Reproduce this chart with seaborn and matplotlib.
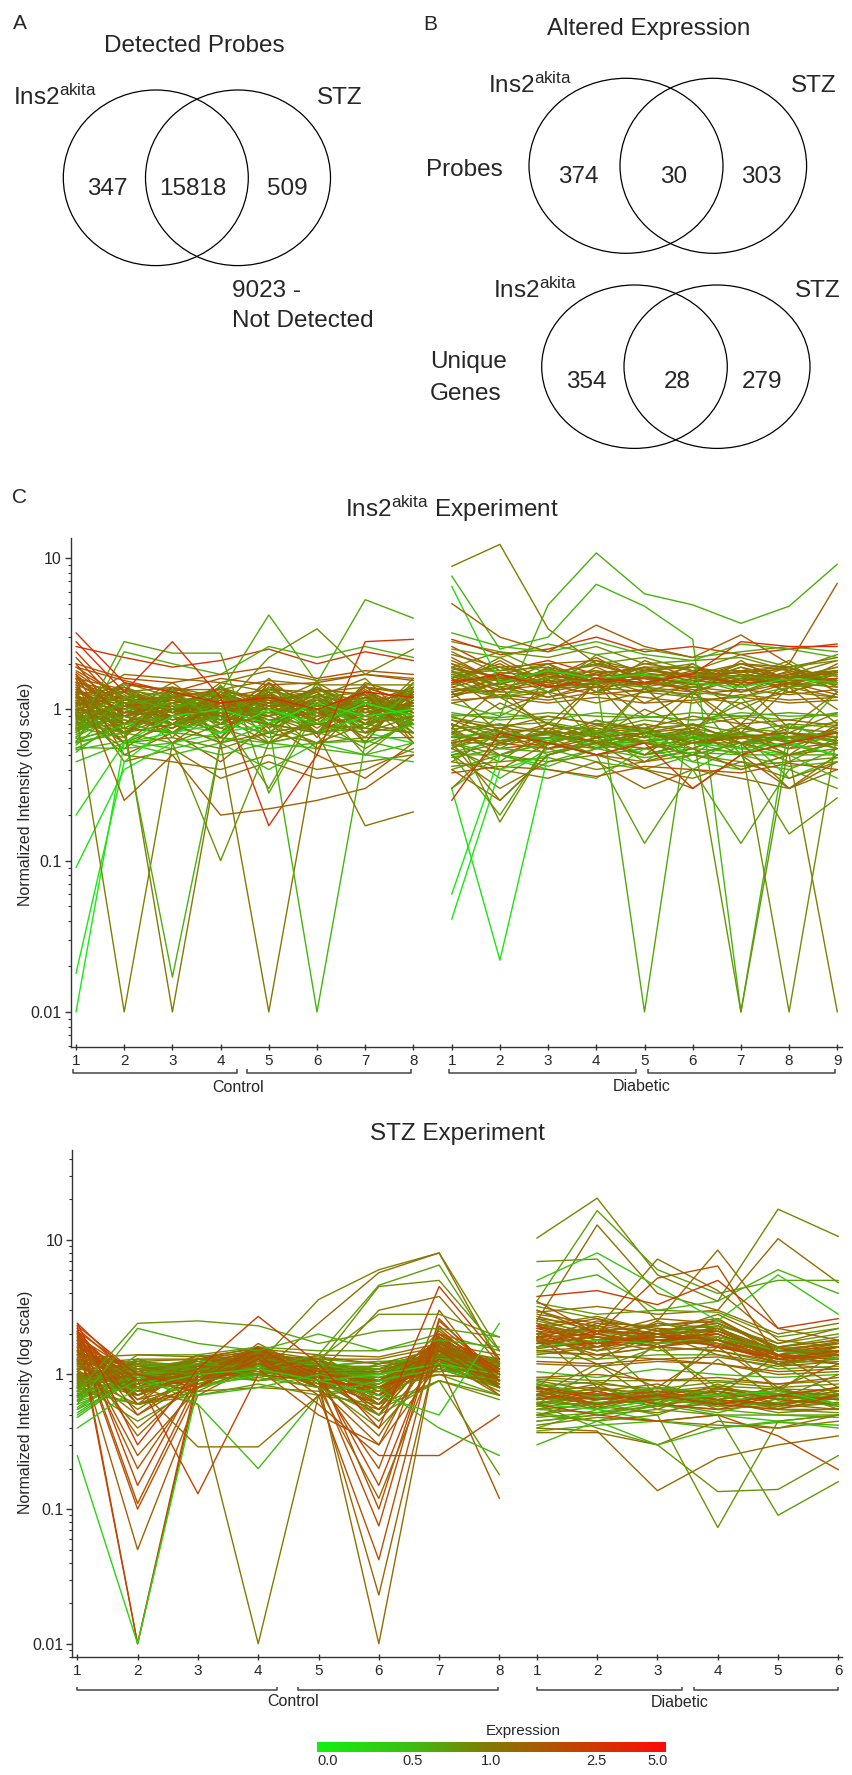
import numpy as np
import pandas as pd
import matplotlib
matplotlib.use("Agg")
import matplotlib.pyplot as plt
import seaborn as sns
from matplotlib.colors import LinearSegmentedColormap
from matplotlib.patches import Ellipse

# ---------------- data ----------------
venn_detected = [347, 15818, 509]
not_detected = 9023
venn_probes = [374, 30, 303]
venn_genes = [354, 28, 279]

ins_ctrl_labels = ["1", "2", "3", "4", "5", "6", "7", "8"]
ins_diab_labels = ["1", "2", "3", "4", "5", "6", "7", "8", "9"]
stz_ctrl_labels = ["1", "2", "3", "4", "5", "6", "7", "8"]
stz_diab_labels = ["1", "2", "3", "4", "5", "6"]

cbar_values = [0.0, 0.5, 1.0, 2.5, 5.0]
cbar_labels = ["0.0", "0.5", "1.0", "2.5", "5.0"]

ins_ctrl = [
    [2.4, 1.1, 0.9, 1.2, 0.8, 1.0, 1.3, 0.9], [2.0, 0.8, 1.1, 0.9, 1.3, 0.7, 1.0, 1.2],
    [1.8, 1.2, 0.7, 1.1, 0.9, 1.2, 0.8, 1.0], [1.6, 0.9, 1.3, 0.8, 1.1, 0.9, 1.2, 0.7],
    [1.5, 1.3, 1.0, 1.4, 0.7, 1.1, 0.9, 1.3], [1.4, 0.7, 1.2, 0.9, 1.5, 0.8, 1.4, 1.1],
    [1.3, 1.0, 0.8, 1.3, 1.0, 1.3, 0.7, 0.9], [1.25, 1.4, 1.1, 0.7, 1.2, 1.0, 1.1, 1.4],
    [1.2, 0.8, 1.4, 1.0, 0.8, 1.4, 1.0, 0.8], [1.15, 1.1, 0.9, 1.5, 1.3, 0.7, 1.5, 1.2],
    [1.1, 0.6, 1.0, 1.1, 0.9, 1.1, 0.8, 1.5], [1.05, 1.2, 1.3, 0.8, 1.6, 0.9, 1.2, 0.9],
    [1.0, 0.9, 0.7, 1.2, 1.1, 1.5, 1.0, 1.1], [0.98, 1.5, 1.2, 1.0, 0.7, 1.2, 1.6, 0.8],
    [0.95, 1.0, 1.5, 0.9, 1.2, 0.8, 0.9, 1.3], [0.9, 0.7, 1.1, 1.3, 1.0, 1.0, 1.3, 1.0],
    [0.88, 1.3, 0.8, 0.6, 1.4, 1.2, 0.8, 1.6], [0.85, 0.9, 1.2, 1.1, 0.8, 0.6, 1.1, 0.7],
    [0.8, 1.1, 1.0, 1.4, 1.1, 1.3, 0.7, 1.2], [0.75, 0.8, 0.9, 1.0, 1.3, 0.9, 1.2, 1.0],
    [2.2, 1.0, 1.2, 0.8, 1.1, 0.9, 1.4, 1.1], [1.9, 1.2, 0.9, 1.1, 0.8, 1.2, 0.9, 0.8],
    [1.7, 0.9, 1.1, 1.3, 1.2, 0.8, 1.1, 1.3], [1.45, 1.1, 0.8, 1.0, 0.9, 1.4, 0.8, 1.0],
    [1.35, 0.8, 1.3, 0.9, 1.4, 1.0, 1.3, 0.9], [1.28, 1.3, 1.0, 1.2, 0.8, 1.1, 1.0, 1.2],
    [1.2, 0.7, 0.9, 0.7, 1.0, 0.7, 1.2, 0.8], [1.12, 1.0, 1.4, 1.1, 1.2, 1.2, 0.9, 1.1],
    [1.08, 1.2, 0.8, 0.9, 0.6, 0.9, 1.4, 1.3], [1.02, 0.9, 1.1, 1.3, 1.0, 1.3, 0.8, 0.9],
    [0.97, 1.4, 1.0, 0.8, 1.3, 0.8, 1.1, 1.0], [0.92, 0.8, 1.3, 1.2, 0.9, 1.1, 1.0, 1.4],
    [0.87, 1.1, 0.7, 1.0, 1.1, 1.0, 1.3, 0.8], [0.82, 0.7, 1.0, 1.4, 0.8, 1.2, 0.7, 1.1],
    [0.78, 1.2, 1.2, 0.9, 1.2, 0.8, 1.2, 0.9], [0.72, 0.9, 0.8, 1.1, 1.0, 1.4, 0.9, 1.2],
    [0.68, 1.0, 1.1, 0.7, 1.4, 0.9, 1.1, 1.0], [0.62, 0.8, 0.9, 1.2, 0.9, 1.1, 1.0, 1.3],
    [0.58, 1.1, 1.2, 1.0, 1.1, 0.7, 1.2, 0.8], [0.52, 0.9, 1.0, 0.9, 0.8, 1.0, 0.8, 1.1],
    [1.0, 0.5, 0.45, 0.4, 0.5, 0.4, 0.45, 0.5], [1.3, 0.45, 0.55, 0.35, 0.45, 0.35, 0.4, 0.55],
    [2.6, 2.2, 1.9, 2.1, 2.5, 2.0, 2.4, 2.1], [0.6, 2.4, 2.0, 1.7, 2.6, 2.2, 2.6, 2.2],
    [1.7, 0.5, 0.7, 0.45, 0.8, 0.5, 0.35, 0.6], [0.45, 0.6, 0.5, 0.6, 0.4, 0.6, 0.5, 0.45],
    [1.15, 0.75, 1.05, 0.85, 1.25, 0.95, 0.75, 1.15], [0.92, 1.25, 0.85, 1.15, 0.95, 1.25, 1.05, 0.85],
    [1.22, 0.95, 1.25, 0.75, 1.05, 0.85, 1.35, 0.95], [0.86, 1.05, 0.95, 1.25, 0.75, 1.15, 0.95, 1.25],
    [1.4, 0.85, 0.75, 1.05, 1.15, 0.75, 1.15, 1.05], [0.7, 1.15, 1.15, 0.95, 1.35, 1.05, 0.85, 0.95],
    [1.6, 1.35, 0.95, 1.15, 0.85, 0.95, 1.05, 1.35], [0.76, 0.65, 1.25, 0.85, 1.05, 1.35, 1.25, 0.75],
    [1.05, 1.45, 1.35, 1.35, 1.55, 1.45, 1.45, 1.45], [0.94, 0.6, 0.65, 0.55, 0.7, 0.6, 0.65, 0.65],
    [1.32, 1.1, 0.85, 0.95, 0.95, 1.15, 0.8, 1.15], [0.66, 0.95, 1.05, 1.05, 0.85, 0.8, 1.1, 0.9],
    [1.75, 1.05, 1.15, 0.9, 1.2, 1.05, 1.2, 0.95], [0.81, 0.85, 0.75, 1.2, 1.1, 0.9, 0.95, 1.05],
    [1.18, 1.2, 1.0, 1.05, 0.9, 1.25, 1.0, 1.25], [0.96, 0.9, 1.2, 0.8, 1.25, 0.95, 1.25, 0.85],
    [1.5, 0.95, 0.9, 1.25, 1.05, 1.1, 0.85, 1.1], [0.74, 1.1, 1.1, 0.95, 0.95, 0.85, 1.15, 1.0],
    [1.26, 0.8, 1.3, 1.1, 1.15, 1.0, 0.9, 1.3], [0.89, 1.3, 0.95, 0.85, 1.3, 1.2, 1.3, 0.9],
    [2.0, 1.6, 1.5, 1.7, 1.9, 1.6, 1.8, 1.7], [0.56, 0.55, 0.6, 0.5, 0.6, 0.55, 0.5, 0.6],
    [1.1, 1.7, 1.6, 1.5, 1.8, 1.55, 1.7, 1.6], [0.64, 0.75, 0.7, 0.65, 0.6, 0.7, 0.75, 0.7],
    [1.45, 0.65, 1.4, 0.6, 1.5, 0.65, 1.45, 0.6], [0.73, 1.5, 0.65, 1.45, 0.6, 1.5, 0.6, 1.5],
    [1.9, 1.55, 1.3, 1.6, 1.45, 1.5, 1.7, 1.55], [0.54, 0.62, 0.55, 0.65, 0.55, 0.6, 0.62, 0.52],
    [1.02, 0.75, 0.7, 0.95, 0.65, 0.8, 0.75, 0.7], [1.14, 1.3, 1.4, 1.2, 1.35, 1.3, 1.4, 1.25],
    [0.83, 0.95, 1.3, 0.65, 1.2, 0.7, 1.3, 0.7], [1.24, 0.6, 0.8, 1.3, 0.75, 1.2, 0.6, 1.4],
    [0.99, 1.2, 0.6, 1.0, 1.0, 0.55, 1.1, 0.6], [1.36, 0.95, 1.05, 0.65, 1.5, 1.0, 0.65, 1.3],
    [0.77, 1.35, 1.2, 1.3, 0.9, 1.35, 1.1, 0.9], [1.65, 0.9, 0.75, 1.1, 1.25, 0.85, 1.3, 1.2],
    [0.61, 0.7, 1.35, 0.8, 0.7, 1.2, 0.75, 1.35], [1.52, 1.15, 1.2, 1.35, 1.1, 1.35, 1.25, 0.65],
    [0.91, 0.55, 0.9, 0.75, 0.6, 0.85, 0.55, 0.85], [1.07, 1.4, 0.95, 1.4, 1.0, 1.4, 0.95, 1.05],
    # outlier probes
    [0.01, 0.6, 0.9, 1.0, 0.8, 1.1, 0.9, 1.0], [0.018, 0.45, 0.8, 0.7, 1.0, 0.8, 1.1, 0.9],
    [0.09, 0.4, 0.6, 0.7, 0.8, 0.7, 0.9, 0.8], [0.2, 0.6, 0.7, 0.8, 0.7, 0.8, 0.7, 0.6],
    [0.7, 2.8, 2.35, 2.35, 0.28, 1.0, 0.9, 0.8], [0.95, 0.01, 0.6, 0.8, 0.9, 0.7, 0.8, 0.9],
    [1.0, 0.8, 0.01, 0.6, 0.7, 0.8, 0.7, 0.8], [0.6, 0.7, 0.017, 0.6, 0.8, 0.7, 0.6, 0.8],
    [1.05, 0.7, 0.8, 0.6, 0.01, 0.6, 0.8, 0.7], [0.55, 0.8, 0.7, 0.9, 0.8, 0.01, 0.6, 0.8],
    [0.8, 0.7, 0.6, 0.1, 0.6, 0.7, 0.8, 0.7], [0.65, 1.2, 1.0, 1.3, 4.2, 1.5, 5.3, 4.0],
    [0.85, 1.1, 1.2, 1.0, 2.2, 3.4, 1.7, 2.5], [3.2, 1.5, 1.3, 1.1, 1.2, 1.0, 1.3, 1.2],
    [2.8, 1.3, 2.8, 1.2, 0.17, 0.5, 2.8, 2.9], [1.1, 0.9, 1.0, 0.9, 0.8, 0.7, 0.17, 0.21],
    [0.75, 0.9, 0.8, 0.9, 0.3, 1.1, 0.5, 0.9], [1.6, 0.25, 0.5, 0.2, 0.22, 0.25, 0.3, 0.5],
]
ins_diab = [
    [2.6, 1.8, 2.1, 1.7, 1.9, 1.5, 2.0, 1.6, 1.8], [1.9, 1.4, 1.6, 2.2, 1.5, 1.8, 1.4, 1.7, 1.5],
    [1.6, 2.0, 1.4, 1.5, 1.7, 1.3, 1.6, 1.4, 2.0], [2.2, 1.5, 1.8, 1.3, 2.1, 1.6, 1.8, 1.9, 1.4],
    [1.4, 1.7, 1.3, 1.9, 1.4, 2.0, 1.3, 1.5, 1.7], [1.8, 1.3, 1.9, 1.6, 1.3, 1.4, 1.7, 1.3, 1.6],
    [1.5, 2.2, 1.5, 1.4, 1.8, 1.7, 1.5, 2.0, 1.3], [1.3, 1.6, 1.7, 2.0, 1.6, 1.5, 1.9, 1.6, 1.9],
    [2.0, 1.4, 1.2, 1.5, 1.9, 1.9, 1.4, 1.8, 1.5], [1.7, 1.9, 1.6, 1.8, 1.4, 1.3, 2.1, 1.4, 1.7],
    [1.2, 1.5, 2.0, 1.3, 1.7, 1.7, 1.6, 1.5, 1.4], [2.4, 1.7, 1.5, 2.1, 1.5, 1.4, 1.3, 1.7, 2.1],
    [1.6, 1.2, 1.8, 1.6, 2.0, 1.8, 1.8, 1.3, 1.6], [1.45, 2.1, 1.4, 1.4, 1.3, 1.6, 1.5, 1.9, 1.3],
    [1.9, 1.6, 1.7, 1.8, 1.6, 1.3, 1.7, 1.5, 1.8], [1.35, 1.3, 1.3, 1.5, 1.8, 2.0, 1.4, 1.7, 1.5],
    [1.75, 1.8, 1.9, 1.3, 1.5, 1.5, 1.9, 1.4, 1.6], [2.8, 2.4, 2.2, 2.6, 2.0, 2.1, 2.2, 1.8, 2.3],
    [1.25, 1.5, 1.6, 1.7, 1.4, 1.6, 1.3, 1.6, 1.9], [1.55, 1.9, 1.3, 2.3, 1.7, 1.4, 1.6, 2.1, 1.4],
    [0.7, 0.55, 0.6, 0.75, 0.65, 0.7, 0.6, 0.65, 0.7], [0.6, 0.7, 0.75, 0.6, 0.55, 0.65, 0.7, 0.55, 0.6],
    [0.8, 0.6, 0.55, 0.7, 0.75, 0.6, 0.65, 0.7, 0.65], [0.55, 0.75, 0.7, 0.55, 0.7, 0.75, 0.55, 0.6, 0.75],
    [0.75, 0.5, 0.65, 0.8, 0.6, 0.55, 0.75, 0.65, 0.55], [0.65, 0.65, 0.8, 0.65, 0.5, 0.8, 0.6, 0.75, 0.7],
    [0.9, 0.7, 0.6, 0.55, 0.7, 0.6, 0.7, 0.5, 0.8], [0.5, 0.6, 0.7, 0.7, 0.8, 0.7, 0.5, 0.7, 0.6],
    [0.7, 0.8, 0.55, 0.6, 0.6, 0.5, 0.8, 0.6, 0.5], [0.6, 0.45, 0.75, 0.75, 0.65, 0.75, 0.65, 0.55, 0.75],
    [0.85, 0.65, 0.65, 0.5, 0.55, 0.65, 0.55, 0.8, 0.6], [0.45, 0.7, 0.5, 0.65, 0.75, 0.55, 0.7, 0.6, 0.85],
    [0.72, 0.55, 0.8, 0.7, 0.45, 0.7, 0.6, 0.45, 0.65], [0.62, 0.75, 0.6, 0.85, 0.7, 0.6, 0.75, 0.7, 0.55],
    [0.8, 0.6, 0.7, 0.6, 0.8, 0.45, 0.65, 0.65, 0.7], [0.4, 0.5, 0.45, 0.55, 0.6, 0.6, 0.5, 0.5, 0.5],
    [0.95, 0.85, 0.9, 0.8, 0.9, 0.85, 0.9, 0.85, 0.95], [0.58, 0.35, 0.55, 0.45, 0.4, 0.5, 0.45, 0.4, 0.55],
    [0.66, 0.7, 0.62, 0.72, 0.68, 0.4, 0.58, 0.66, 0.62], [0.52, 0.62, 0.68, 0.58, 0.62, 0.66, 0.7, 0.35, 0.48],
    [0.5, 0.3, 0.45, 0.5, 0.4, 0.35, 0.45, 0.35, 0.45], [0.45, 0.4, 0.35, 0.45, 0.3, 0.4, 0.35, 0.3, 0.4],
    [2.9, 2.3, 2.5, 3.0, 2.4, 2.6, 2.3, 2.5, 2.7], [3.2, 2.6, 2.4, 2.8, 2.3, 2.1, 2.7, 2.5, 2.2],
    [0.4, 0.25, 0.5, 0.6, 0.4, 0.3, 0.5, 0.3, 0.45], [0.3, 0.5, 0.4, 0.35, 0.55, 0.45, 0.4, 0.5, 0.35],
    [1.65, 1.35, 1.55, 1.45, 1.75, 1.55, 1.45, 1.65, 1.55], [0.68, 0.62, 0.72, 0.66, 0.6, 0.68, 0.64, 0.7, 0.66],
    [1.45, 1.75, 1.65, 1.55, 1.45, 1.75, 1.65, 1.45, 1.75], [0.78, 0.72, 0.58, 0.78, 0.72, 0.62, 0.78, 0.62, 0.72],
    [2.1, 1.55, 1.75, 1.95, 1.65, 1.45, 1.55, 1.75, 1.45], [0.56, 0.66, 0.68, 0.56, 0.66, 0.72, 0.6, 0.58, 0.66],
    [1.25, 1.35, 1.45, 1.25, 1.35, 1.25, 1.35, 1.25, 1.35], [0.88, 0.78, 0.82, 0.72, 0.85, 0.78, 0.88, 0.75, 0.82],
    [1.6, 1.0, 1.3, 1.7, 1.1, 1.5, 1.0, 1.4, 1.2], [0.7, 1.1, 0.8, 0.65, 1.0, 0.75, 1.1, 0.7, 0.95],
    [1.85, 1.65, 1.45, 1.75, 1.85, 1.65, 1.75, 1.85, 1.65], [0.48, 0.55, 0.52, 0.6, 0.5, 0.55, 0.52, 0.58, 0.5],
    [1.3, 1.5, 1.2, 1.4, 1.5, 1.35, 1.2, 1.5, 1.25], [0.74, 0.8, 0.7, 0.84, 0.74, 0.8, 0.7, 0.8, 0.76],
    [1.7, 1.45, 1.85, 1.5, 1.6, 1.9, 1.55, 1.7, 1.8], [0.62, 0.58, 0.65, 0.62, 0.55, 0.6, 0.68, 0.62, 0.58],
    [1.15, 1.2, 1.1, 1.2, 1.1, 1.15, 1.2, 1.1, 1.15], [0.92, 0.88, 0.95, 0.9, 0.88, 0.95, 0.9, 0.95, 0.9],
    [2.3, 1.9, 2.0, 2.1, 1.8, 1.7, 2.0, 1.9, 2.2], [0.42, 0.45, 0.48, 0.4, 0.45, 0.5, 0.42, 0.45, 0.48],
    [1.55, 1.6, 1.7, 1.5, 1.6, 1.65, 1.5, 1.55, 1.6], [0.66, 0.7, 0.64, 0.68, 0.72, 0.64, 0.68, 0.66, 0.7],
    [1.8, 1.2, 0.8, 1.5, 0.9, 1.3, 0.8, 1.6, 1.0], [0.55, 0.9, 1.3, 0.6, 1.4, 0.7, 1.2, 0.6, 1.3],
    [1.1, 1.25, 1.15, 1.3, 1.2, 1.1, 1.25, 1.15, 1.2], [2.5, 2.2, 2.7, 2.3, 2.5, 2.2, 2.4, 2.6, 2.4],
    [0.38, 0.42, 0.4, 0.36, 0.42, 0.4, 0.38, 0.44, 0.4], [0.9, 0.95, 0.85, 0.95, 0.9, 0.85, 0.95, 0.9, 0.92],
    [1.3, 0.7, 1.6, 0.65, 1.4, 0.7, 1.5, 0.75, 1.3], [0.75, 1.4, 0.7, 1.5, 0.65, 1.3, 0.7, 1.4, 0.8],
    [1.9, 2.4, 1.7, 2.0, 2.2, 1.8, 2.3, 1.9, 2.1], [0.55, 0.4, 0.6, 0.5, 0.45, 0.55, 0.4, 0.5, 0.55],
    [1.4, 1.2, 1.3, 1.1, 1.3, 1.2, 1.1, 1.3, 1.2], [0.85, 0.75, 0.9, 0.8, 0.75, 0.9, 0.8, 0.85, 0.78],
    [1.65, 1.55, 1.8, 1.6, 1.5, 1.7, 1.65, 1.55, 1.7], [0.6, 0.68, 0.55, 0.65, 0.7, 0.6, 0.66, 0.7, 0.62],
    [0.5, 0.5, 0.42, 0.55, 0.48, 0.52, 0.5, 0.42, 0.45], [2.0, 1.6, 1.5, 1.7, 1.6, 1.5, 1.8, 1.6, 1.75],
    [0.8, 0.62, 0.7, 0.68, 0.62, 0.72, 0.6, 0.66, 0.7], [1.2, 1.7, 2.0, 1.5, 1.9, 1.6, 2.0, 1.8, 1.5],
    # outlier probes
    [0.06, 0.5, 0.6, 0.7, 0.5, 0.6, 0.55, 0.6, 0.5], [0.041, 0.4, 0.5, 0.6, 0.7, 0.5, 0.6, 0.5, 0.6],
    [0.3, 0.022, 0.5, 0.6, 0.5, 0.6, 0.55, 0.5, 0.6], [6.5, 1.5, 1.8, 1.6, 1.7, 1.5, 1.4, 1.6, 1.5],
    [0.5, 0.2, 0.6, 0.5, 0.13, 0.4, 0.13, 0.4, 0.3], [0.8, 0.6, 0.7, 0.6, 0.7, 0.6, 0.7, 0.5, 0.01],
    [8.8, 12.3, 3.4, 2.0, 1.8, 1.9, 1.7, 1.6, 1.8], [1.1, 0.9, 4.9, 10.8, 5.8, 4.9, 3.7, 4.8, 9.1],
    [0.6, 0.25, 0.5, 0.6, 0.7, 0.8, 0.6, 0.3, 0.5], [7.6, 2.5, 3.0, 6.7, 4.8, 2.9, 0.01, 0.8, 0.6],
    [0.6, 0.5, 0.6, 0.5, 0.6, 0.7, 0.01, 0.6, 0.7], [1.5, 1.2, 1.4, 1.6, 0.01, 1.3, 1.2, 1.4, 1.5],
    [0.8, 0.18, 0.6, 0.7, 0.6, 0.5, 0.6, 0.01, 0.7], [1.5, 1.7, 1.4, 1.6, 1.5, 1.7, 2.8, 2.6, 2.6],
    [0.25, 0.7, 0.6, 0.5, 0.6, 0.3, 0.5, 0.6, 0.7], [0.3, 0.6, 0.7, 0.6, 0.5, 0.6, 0.6, 0.5, 0.6],
    [1.8, 1.4, 1.6, 1.5, 1.4, 1.2, 0.5, 0.15, 0.26], [5.0, 3.0, 2.4, 3.6, 2.6, 2.2, 3.1, 2.0, 6.8],
]

stz_ctrl = [
    [2.4, 0.9, 1.1, 1.5, 1.0, 0.7, 1.6, 0.9], [2.1, 0.7, 1.2, 1.3, 1.1, 0.6, 1.8, 1.0],
    [1.9, 1.0, 0.9, 1.6, 0.9, 0.8, 1.4, 0.8], [1.7, 0.6, 1.3, 1.2, 1.2, 0.5, 2.0, 1.1],
    [1.6, 1.1, 1.0, 1.4, 0.8, 0.9, 1.3, 0.7], [1.5, 0.8, 1.4, 1.1, 1.3, 0.7, 1.7, 1.2],
    [1.4, 1.2, 0.8, 1.7, 1.0, 1.0, 1.2, 0.9], [1.3, 0.9, 1.2, 1.0, 1.4, 0.8, 1.5, 1.0],
    [1.25, 0.7, 1.1, 1.3, 0.9, 0.6, 1.9, 0.8], [1.2, 1.3, 1.3, 1.5, 1.1, 1.1, 1.3, 1.3],
    [1.1, 1.0, 0.9, 1.2, 1.2, 0.9, 1.6, 1.0], [1.05, 0.8, 1.2, 0.9, 1.0, 0.7, 1.1, 0.9],
    [1.0, 1.1, 1.0, 1.4, 0.8, 1.2, 1.4, 1.2], [0.95, 0.9, 1.4, 1.1, 1.3, 0.8, 1.2, 0.8],
    [0.9, 1.2, 1.1, 1.3, 1.1, 1.0, 1.7, 1.1], [0.85, 0.8, 0.9, 1.0, 0.9, 0.7, 1.3, 0.9],
    [0.8, 1.0, 1.3, 1.2, 1.2, 1.1, 1.5, 1.3], [0.75, 1.3, 1.0, 0.9, 1.0, 0.9, 1.1, 1.0],
    [0.7, 0.9, 1.2, 1.4, 1.3, 1.2, 1.4, 0.8], [0.65, 1.1, 1.1, 1.0, 0.9, 0.8, 1.2, 1.2],
    [2.3, 1.0, 1.0, 1.3, 1.2, 0.8, 1.5, 1.1], [2.0, 0.8, 1.3, 1.6, 0.9, 0.6, 1.7, 0.9],
    [1.8, 0.6, 0.9, 1.1, 1.1, 0.7, 1.3, 1.0], [1.65, 0.9, 1.2, 1.5, 1.0, 0.9, 1.8, 0.8],
    [1.45, 1.1, 1.0, 1.2, 1.3, 0.8, 1.2, 1.2], [1.35, 0.7, 1.3, 1.4, 0.9, 0.5, 1.6, 0.9],
    [1.28, 1.0, 0.8, 1.0, 1.2, 1.0, 1.4, 1.1], [1.15, 0.8, 1.2, 1.3, 1.0, 0.7, 1.3, 0.8],
    [1.08, 1.2, 1.1, 1.6, 1.1, 1.1, 1.6, 1.0], [1.02, 0.9, 0.9, 1.2, 0.8, 0.8, 1.2, 1.2],
    [0.97, 1.1, 1.2, 1.1, 1.2, 1.0, 1.5, 0.9], [0.92, 0.7, 1.0, 1.4, 1.0, 0.6, 1.3, 1.1],
    [0.87, 1.0, 1.3, 1.0, 1.3, 0.9, 1.1, 0.8], [0.82, 1.2, 0.9, 1.3, 0.9, 1.2, 1.4, 1.0],
    [0.78, 0.8, 1.1, 0.9, 1.1, 0.8, 1.6, 1.2], [0.72, 1.0, 1.2, 1.2, 1.0, 1.0, 1.2, 0.9],
    [0.68, 1.3, 0.9, 1.1, 1.2, 1.1, 1.3, 1.0], [0.6, 0.9, 1.1, 1.3, 0.9, 0.9, 1.1, 0.8],
    [0.55, 1.1, 1.0, 1.0, 1.1, 1.0, 1.4, 1.1], [0.48, 1.0, 1.2, 1.2, 1.0, 0.8, 1.2, 0.9],
    [1.12, 0.85, 1.05, 1.25, 1.05, 0.85, 1.35, 1.05], [0.93, 1.05, 1.15, 1.15, 0.95, 0.95, 1.25, 0.95],
    [1.55, 0.75, 0.95, 1.35, 1.15, 0.75, 1.55, 1.15], [0.79, 1.15, 1.25, 1.05, 1.25, 1.05, 1.15, 0.85],
    [1.38, 0.95, 1.05, 1.45, 0.85, 0.85, 1.45, 0.95], [0.67, 0.95, 1.15, 1.25, 1.05, 0.95, 1.05, 1.15],
    [1.85, 0.65, 0.85, 1.15, 0.95, 0.65, 1.65, 0.85], [0.83, 1.25, 0.95, 1.35, 1.15, 1.15, 1.35, 1.05],
    [1.22, 0.55, 1.05, 1.45, 1.05, 0.55, 1.85, 1.05], [0.96, 1.05, 1.25, 1.05, 0.95, 1.05, 1.15, 1.25],
    [1.6, 0.85, 1.15, 1.55, 1.15, 0.75, 1.75, 0.95], [0.74, 0.95, 0.85, 1.15, 1.05, 0.95, 1.25, 1.05],
    [1.05, 0.7, 1.2, 1.3, 1.2, 0.65, 1.5, 0.85], [0.88, 1.15, 1.05, 0.95, 1.15, 1.25, 1.05, 1.15],
    [1.42, 1.05, 0.9, 1.35, 0.9, 0.9, 1.35, 1.2], [0.63, 0.85, 1.05, 1.2, 0.95, 0.85, 1.3, 0.9],
    [1.95, 0.8, 1.1, 1.4, 1.1, 0.7, 1.9, 1.0], [0.52, 1.0, 0.95, 1.1, 1.2, 1.0, 1.2, 1.1],
    [1.18, 1.25, 1.3, 1.5, 1.3, 1.3, 1.6, 1.3], [0.98, 0.6, 0.75, 0.8, 0.75, 0.55, 0.9, 0.7],
    [1.3, 0.4, 0.9, 1.2, 1.0, 0.45, 1.4, 0.9], [0.86, 0.45, 0.8, 1.1, 0.85, 0.4, 1.2, 0.8],
    [1.5, 0.35, 0.95, 1.3, 0.9, 0.35, 1.7, 1.0], [0.7, 1.4, 1.4, 1.6, 1.5, 1.5, 2.0, 1.5],
    [1.33, 1.4, 1.35, 1.55, 1.4, 1.35, 1.7, 1.4], [0.76, 0.6, 0.7, 0.85, 0.7, 0.6, 0.9, 0.65],
    [1.75, 0.75, 1.0, 1.55, 1.0, 0.7, 2.1, 1.0], [0.57, 1.1, 1.3, 1.0, 1.15, 1.25, 1.3, 1.3],
    [1.16, 0.9, 0.75, 1.2, 0.8, 0.75, 1.2, 0.75], [0.94, 1.25, 1.15, 1.45, 1.25, 1.0, 1.5, 1.25],
    [1.48, 0.65, 1.15, 1.2, 1.3, 0.6, 1.6, 1.15], [0.69, 0.8, 0.85, 0.95, 0.8, 0.75, 1.0, 0.7],
    [1.27, 1.05, 1.3, 1.3, 1.35, 1.2, 1.55, 1.25], [0.9, 0.75, 0.95, 1.25, 0.95, 0.65, 1.4, 0.95],
    [2.05, 0.6, 0.9, 1.3, 1.05, 0.55, 1.9, 1.05], [0.81, 1.3, 1.0, 1.05, 1.0, 1.1, 1.2, 1.0],
    [1.09, 0.5, 1.05, 1.35, 0.95, 0.5, 1.6, 0.9], [0.64, 1.0, 1.1, 1.15, 1.1, 0.9, 1.15, 1.2],
    [1.4, 1.15, 1.0, 1.6, 1.05, 1.05, 1.5, 1.1], [0.99, 0.85, 1.2, 1.0, 1.15, 0.8, 1.25, 0.85],
    # outlier probes
    [2.3, 0.01, 0.9, 1.1, 1.0, 0.8, 1.2, 1.0], [2.1, 0.01, 1.0, 1.2, 0.9, 0.7, 1.3, 0.9],
    [1.9, 0.1, 0.8, 1.3, 1.0, 0.9, 1.5, 0.8], [2.0, 0.11, 0.9, 1.4, 1.1, 0.1, 2.5, 1.0],
    [1.6, 0.05, 0.7, 1.2, 0.9, 0.7, 1.6, 0.9], [2.2, 0.15, 1.0, 1.5, 1.0, 0.15, 2.0, 1.1],
    [1.8, 0.2, 0.9, 1.3, 0.9, 0.2, 3.0, 0.8], [1.7, 0.25, 0.8, 1.6, 0.8, 0.3, 2.2, 0.9],
    [0.25, 0.01, 0.8, 1.0, 0.9, 1.0, 1.2, 1.0], [1.0, 0.8, 0.6, 0.01, 0.7, 0.9, 1.0, 0.9],
    [2.2, 0.9, 0.13, 1.0, 0.9, 0.8, 1.1, 0.9], [0.5, 1.0, 0.6, 0.2, 0.7, 0.9, 1.1, 0.9],
    [1.2, 0.8, 0.29, 0.29, 0.7, 0.8, 1.0, 0.9], [0.9, 1.1, 1.0, 1.2, 3.6, 6.0, 8.0, 1.5],
    [1.3, 0.9, 1.1, 1.0, 2.4, 5.7, 8.0, 1.2], [0.7, 1.0, 1.2, 1.1, 1.4, 4.6, 6.5, 1.3],
    [0.85, 1.1, 1.0, 1.3, 1.2, 4.5, 5.0, 1.5], [1.1, 1.0, 0.9, 1.2, 1.0, 3.0, 3.8, 1.2],
    [0.8, 1.2, 1.1, 1.0, 1.3, 2.8, 2.8, 1.9], [1.25, 0.7, 1.0, 1.5, 0.9, 0.01, 2.0, 0.9],
    [1.5, 0.8, 0.9, 1.3, 0.8, 0.023, 1.8, 0.8], [1.9, 0.6, 0.8, 1.4, 0.7, 0.042, 2.3, 1.0],
    [2.0, 0.5, 0.9, 1.6, 0.9, 0.075, 2.6, 0.9], [1.4, 0.9, 1.0, 1.2, 0.8, 0.12, 1.6, 0.7],
    [2.1, 1.0, 0.8, 1.3, 0.6, 0.25, 0.25, 0.5], [1.8, 0.9, 1.0, 1.1, 0.5, 0.3, 1.2, 0.12],
    [0.8, 0.6, 0.9, 1.0, 0.8, 0.5, 0.9, 0.18], [0.4, 0.8, 1.0, 1.1, 0.9, 0.7, 0.5, 2.4],
    [0.55, 0.9, 0.7, 0.8, 1.0, 0.8, 0.4, 0.25], [0.75, 2.4, 2.5, 2.3, 1.7, 2.1, 2.2, 1.9],
    [0.6, 2.2, 1.7, 1.5, 2.0, 1.5, 1.8, 1.6], [2.4, 0.3, 1.1, 2.7, 1.2, 0.4, 4.5, 1.3],
]
stz_diab = [
    [2.3, 1.8, 1.9, 2.0, 1.4, 1.5], [2.0, 2.2, 1.7, 1.8, 1.3, 1.4], [1.8, 1.6, 2.0, 2.1, 1.5, 1.3],
    [2.6, 1.9, 1.8, 1.7, 1.2, 1.6], [1.6, 2.0, 1.6, 1.9, 1.4, 1.2], [2.1, 1.5, 2.2, 1.6, 1.3, 1.5],
    [1.9, 2.3, 1.7, 2.2, 1.5, 1.4], [1.7, 1.7, 1.9, 1.8, 1.2, 1.3], [2.4, 1.9, 1.6, 2.0, 1.4, 1.7],
    [1.5, 1.6, 2.1, 1.7, 1.3, 1.2], [2.2, 2.1, 1.8, 1.9, 1.5, 1.5], [1.85, 1.5, 1.7, 2.3, 1.2, 1.4],
    [2.8, 2.4, 2.3, 2.5, 1.6, 1.8], [1.55, 1.8, 1.5, 1.6, 1.4, 1.3], [2.0, 1.7, 2.4, 2.0, 1.3, 1.6],
    [1.75, 2.2, 1.9, 1.7, 1.5, 1.4], [3.2, 2.6, 2.1, 2.3, 1.7, 2.0], [1.45, 1.4, 1.6, 1.5, 1.2, 1.3],
    [2.5, 2.0, 2.0, 2.4, 1.6, 1.9], [1.35, 1.3, 1.4, 1.4, 1.1, 1.15],
    [0.75, 0.7, 0.65, 0.7, 0.75, 0.7], [0.65, 0.8, 0.7, 0.6, 0.7, 0.65], [0.85, 0.65, 0.75, 0.75, 0.65, 0.75],
    [0.6, 0.75, 0.6, 0.65, 0.8, 0.6], [0.8, 0.6, 0.8, 0.55, 0.6, 0.7], [0.7, 0.85, 0.55, 0.8, 0.7, 0.8],
    [0.55, 0.7, 0.7, 0.7, 0.55, 0.55], [0.9, 0.75, 0.85, 0.65, 0.75, 0.65], [0.68, 0.55, 0.65, 0.75, 0.65, 0.75],
    [0.5, 0.65, 0.75, 0.6, 0.7, 0.6], [0.78, 0.8, 0.6, 0.85, 0.6, 0.7], [0.62, 0.6, 0.8, 0.65, 0.8, 0.55],
    [0.95, 0.9, 0.9, 0.9, 0.85, 0.9], [0.45, 0.5, 0.55, 0.5, 0.5, 0.5], [0.72, 0.72, 0.68, 0.58, 0.62, 0.8],
    [0.58, 0.62, 0.5, 0.7, 0.58, 0.62], [0.82, 0.58, 0.72, 0.62, 0.72, 0.58], [0.52, 0.45, 0.6, 0.55, 0.5, 0.48],
    [0.66, 0.68, 0.62, 0.78, 0.66, 0.72], [0.4, 0.55, 0.45, 0.5, 0.45, 0.5],
    [2.6, 2.3, 2.0, 2.2, 1.5, 1.7], [0.7, 0.78, 0.72, 0.68, 0.76, 0.7], [3.0, 2.0, 2.6, 2.4, 1.6, 1.8],
    [0.55, 0.6, 0.68, 0.62, 0.6, 0.66], [1.7, 1.9, 1.7, 2.6, 1.4, 1.6], [0.85, 0.7, 0.8, 0.72, 0.68, 0.8],
    [2.2, 2.6, 1.8, 2.0, 1.3, 1.5], [0.62, 0.68, 0.58, 0.78, 0.72, 0.6], [1.4, 1.6, 2.2, 1.8, 1.5, 1.4],
    [0.78, 0.56, 0.7, 0.65, 0.58, 0.72], [1.9, 1.4, 1.6, 1.5, 1.25, 1.35], [0.48, 0.52, 0.58, 0.6, 0.55, 0.52],
    [2.4, 1.8, 2.4, 2.2, 1.4, 1.6], [0.92, 0.85, 0.78, 0.88, 0.8, 0.85], [1.6, 2.4, 2.0, 2.8, 1.7, 2.2],
    [0.66, 0.62, 0.66, 0.58, 0.62, 0.68], [1.25, 1.2, 1.3, 1.2, 1.05, 1.1], [1.05, 0.95, 1.1, 1.0, 0.95, 1.0],
    [2.9, 3.2, 2.8, 3.0, 2.0, 2.4], [0.42, 0.48, 0.45, 0.42, 0.4, 0.45], [2.0, 0.8, 1.7, 0.7, 1.4, 0.8],
    [0.8, 1.8, 0.7, 1.9, 0.75, 1.5], [1.8, 1.2, 0.8, 1.6, 0.8, 1.2], [0.6, 1.1, 1.6, 0.8, 1.2, 0.7],
    [1.2, 1.15, 1.25, 1.2, 1.0, 1.05], [3.4, 2.8, 3.0, 2.9, 1.9, 2.2], [0.95, 1.0, 0.9, 0.95, 0.85, 0.95],
    [0.38, 0.42, 0.45, 0.4, 0.44, 0.42], [2.1, 1.3, 2.0, 1.4, 1.2, 1.1], [0.7, 1.2, 0.6, 1.3, 0.65, 1.0],
    [1.85, 2.5, 2.2, 2.1, 1.35, 1.45], [0.55, 0.52, 0.62, 0.52, 0.66, 0.58], [2.7, 2.1, 2.3, 2.6, 1.5, 1.75],
    [0.82, 0.88, 0.74, 0.82, 0.78, 0.76], [1.6, 1.7, 1.8, 1.65, 1.3, 1.4], [0.58, 0.72, 0.65, 0.7, 0.56, 0.62],
    [2.3, 2.7, 2.1, 2.4, 1.55, 1.7], [0.88, 0.66, 0.8, 0.7, 0.72, 0.66], [1.5, 1.4, 1.3, 1.35, 1.15, 1.25],
    [0.5, 0.58, 0.52, 0.64, 0.52, 0.56],
    # outlier probes
    [2.2, 1.7, 1.9, 1.8, 1.3, 1.4], [0.7, 0.65, 0.7, 0.6, 0.7, 0.65], [1.9, 2.0, 1.7, 2.1, 1.4, 1.3],
    [2.3, 1.6, 1.8, 1.9, 1.5, 1.6], [0.75, 0.6, 0.7, 0.8, 0.65, 0.6], [1.7, 2.1, 2.0, 1.6, 1.3, 1.5],
    [0.8, 0.7, 0.75, 0.65, 0.6, 0.7], [2.1, 1.9, 1.6, 1.8, 1.4, 1.2], [0.6, 0.55, 0.65, 0.7, 0.75, 0.6],
    [1.8, 1.5, 1.9, 2.2, 1.2, 1.4], [0.65, 0.75, 0.6, 0.55, 0.7, 0.8], [1.6, 1.8, 1.7, 1.9, 1.5, 1.3],
    [0.37, 0.37, 0.3, 0.45, 0.4, 0.5], [10.3, 20.4, 5.5, 3.5, 16.9, 10.6], [2.5, 12.9, 4.0, 3.0, 10.2, 4.8],
    [3.5, 16.5, 6.0, 4.0, 5.0, 5.0], [6.9, 7.2, 2.5, 1.8, 1.6, 1.4], [3.0, 2.2, 7.2, 4.2, 1.8, 1.6],
    [0.5, 0.45, 0.5, 0.073, 0.45, 0.5], [2.4, 1.6, 2.5, 8.4, 2.2, 1.8], [0.7, 0.6, 0.65, 0.75, 0.6, 0.55],
    [3.5, 2.0, 5.2, 6.4, 1.3, 1.5], [0.8, 0.65, 0.7, 0.6, 0.55, 0.7], [0.4, 0.38, 0.137, 0.24, 0.3, 0.35],
    [0.6, 0.5, 0.45, 0.5, 0.35, 0.196], [1.9, 1.7, 2.0, 1.8, 1.3, 1.4], [0.6, 0.4, 0.3, 0.135, 0.14, 0.25],
    [5.0, 8.0, 4.5, 2.5, 5.5, 2.8], [0.3, 0.45, 0.3, 0.4, 0.45, 0.4], [0.45, 0.5, 0.6, 0.5, 0.09, 0.16],
    [4.5, 5.5, 3.0, 3.5, 6.0, 4.0], [3.8, 4.2, 3.3, 5.0, 2.2, 2.6],
]

# ---------------- style ----------------
sns.set_theme(style="white")
plt.rcParams["font.family"] = ["Liberation Sans", "DejaVu Sans"]
plt.rcParams["mathtext.fontset"] = "custom"
plt.rcParams["mathtext.rm"] = "Liberation Sans"
plt.rcParams["mathtext.it"] = "Liberation Sans:italic"
plt.rcParams["mathtext.bf"] = "Liberation Sans:bold"

W, H = 853, 1775
fig = plt.figure(figsize=(W / 100, H / 100), dpi=100)
fig.patch.set_facecolor("white")


def rect(l, t, r, b):
    return [l / W, 1 - b / H, (r - l) / W, (b - t) / H]


expr_cmap = LinearSegmentedColormap.from_list(
    "expr",
    [(0.0, "#12f012"), (0.27, "#3cbe10"), (0.5, "#867800"), (0.78, "#cc3c00"), (1.0, "#ff0a0a")],
)
cbar_fracs = [0.03, 0.275, 0.5, 0.8, 0.975]


def expr_frac(v):
    return float(np.interp(v, cbar_values, cbar_fracs))


ov = fig.add_axes([0, 0, 1, 1])
ov.set_xlim(0, W)
ov.set_ylim(H, 0)
ov.axis("off")

TXT = 17.5
INS = r"Ins2$^{\mathrm{akita}}$"

# ---------------- Panel A ----------------
ov.text(13, 29, "A", fontsize=15, ha="left", va="baseline")
ov.text(194, 52, "Detected Probes", fontsize=TXT, ha="center", va="baseline")
for cx in (155.8, 238.0):
    ov.add_patch(Ellipse((cx, 177.8), 185, 175.6, fill=False, ec="black", lw=0.9))
ov.text(13, 104.5, INS, fontsize=TXT, ha="left", va="baseline")
ov.text(317, 104, "STZ", fontsize=TXT, ha="left", va="baseline")
for cx, v in zip((107.5, 193, 287.5), venn_detected):
    ov.text(cx, 195, str(v), fontsize=TXT, ha="center", va="baseline")
ov.text(232, 297, f"{not_detected} -", fontsize=TXT, ha="left", va="baseline")
ov.text(232, 327, "Not Detected", fontsize=TXT, ha="left", va="baseline")

# ---------------- Panel B ----------------
ov.text(423, 30, "B", fontsize=15, ha="left", va="baseline")
ov.text(649, 35.5, "Altered Expression", fontsize=TXT, ha="center", va="baseline")
ov.add_patch(Ellipse((626, 165.8), 194, 175, fill=False, ec="black", lw=0.9))
ov.add_patch(Ellipse((713.3, 165.8), 186.6, 175, fill=False, ec="black", lw=0.9))
ov.text(488, 92.7, INS, fontsize=TXT, ha="left", va="baseline")
ov.text(790.7, 91.7, "STZ", fontsize=TXT, ha="left", va="baseline")
ov.text(426, 176, "Probes", fontsize=TXT, ha="left", va="baseline")
for cx, v in zip((578, 673.3, 761), venn_probes):
    ov.text(cx, 182.7, str(v), fontsize=TXT, ha="center", va="baseline")

ov.add_patch(Ellipse((634.5, 366.7), 185.6, 163.4, fill=False, ec="black", lw=0.9))
ov.add_patch(Ellipse((717, 366.7), 186, 163.4, fill=False, ec="black", lw=0.9))
ov.text(492.7, 298.3, INS, fontsize=TXT, ha="left", va="baseline")
ov.text(795, 297.3, "STZ", fontsize=TXT, ha="left", va="baseline")
ov.text(430, 368.3, "Unique", fontsize=TXT, ha="left", va="baseline")
ov.text(430, 400, "Genes", fontsize=TXT, ha="left", va="baseline")
for cx, v in zip((586.3, 676.8, 762.5), venn_genes):
    ov.text(cx, 388.3, str(v), fontsize=TXT, ha="center", va="baseline")

# ---------------- Panel C ----------------
ov.text(12, 503, "C", fontsize=15, ha="left", va="baseline")


def profile_frame(ctrl, diab, ctrl_x, diab_x):
    recs = []
    palette = {}
    for i, (c, d) in enumerate(zip(ctrl, diab)):
        key = f"p{i}"
        palette[key] = expr_cmap(expr_frac(c[0]))
        for xx, v in zip(ctrl_x, c):
            recs.append(dict(x=xx, y=v, unit=f"c{i}", probe=key))
        for xx, v in zip(diab_x, d):
            recs.append(dict(x=xx, y=v, unit=f"d{i}", probe=key))
    return pd.DataFrame(recs), palette


def style_axis(ax, xt, xl, ylim, xlim):
    ax.set_yscale("log")
    ax.set_ylim(*ylim)
    ax.set_xlim(*xlim)
    ax.set_xlabel("")
    ax.set_ylabel("")
    ax.set_facecolor("white")
    for s in ("top", "right"):
        ax.spines[s].set_visible(False)
    for s in ("left", "bottom"):
        ax.spines[s].set_color("#333333")
        ax.spines[s].set_linewidth(1.0)
    ax.set_xticks(xt)
    ax.set_xticklabels(xl)
    ax.set_yticks([0.01, 0.1, 1, 10])
    ax.set_yticklabels(["0.01", "0.1", "1", "10"])
    ax.yaxis.set_minor_locator(matplotlib.ticker.LogLocator(base=10, subs=np.arange(2, 10)))
    ax.yaxis.set_minor_formatter(matplotlib.ticker.NullFormatter())
    ax.tick_params(axis="y", which="major", direction="out", length=4, width=1.0,
                   color="#333333", labelsize=11.5, pad=2.5, left=True)
    ax.tick_params(axis="y", which="minor", direction="out", length=2.3, width=0.8,
                   color="#333333", left=True)
    ax.tick_params(axis="x", which="major", direction="inout", length=5, width=1.0,
                   color="#333333", labelsize=11, pad=2.5, bottom=True)
    ax.tick_params(axis="x", which="minor", bottom=False)
    ax.grid(False)


def bracket(segs, y, h=3.5):
    for x0, x1 in segs:
        ov.plot([x0, x0, x1, x1], [y - h, y, y, y - h], color="#444444", lw=1.1,
                solid_capstyle="butt")


LW = 1.0

# --- Ins2 experiment
ins_off = 7.795
ins_cx = list(range(len(ins_ctrl_labels)))
ins_dx = [ins_off + k for k in range(len(ins_diab_labels))]
ax1 = fig.add_axes(rect(71, 538, 841.7, 1047))
df1, pal1 = profile_frame(ins_ctrl, ins_diab, ins_cx, ins_dx)
sns.lineplot(data=df1, x="x", y="y", units="unit", estimator=None, hue="probe",
             palette=pal1, legend=False, lw=LW, ax=ax1)
style_axis(ax1, ins_cx + ins_dx, ins_ctrl_labels + ins_diab_labels,
           (0.00587, 13.55), (-0.104, 15.886))
ov.text(452, 517, INS + " Experiment", fontsize=TXT, ha="center", va="baseline")
ov.text(25.7, 794, "Normalized Intensity (log scale)", fontsize=11.5, rotation=90,
        ha="center", va="center")
bracket([(72.7, 236.7), (247.3, 410.7), (449, 636), (648.3, 835)], 1072.7)
ov.text(238.3, 1092.5, "Control", fontsize=11.5, ha="center", va="baseline")
ov.text(641.7, 1091, "Diabetic", fontsize=11.5, ha="center", va="baseline")

# --- STZ experiment
stz_off = 7.62
stz_cx = list(range(len(stz_ctrl_labels)))
stz_dx = [stz_off + k for k in range(len(stz_diab_labels))]
ax2 = fig.add_axes(rect(72.4, 1149.5, 842, 1657))
df2, pal2 = profile_frame(stz_ctrl, stz_diab, stz_cx, stz_dx)
sns.lineplot(data=df2, x="x", y="y", units="unit", estimator=None, hue="probe",
             palette=pal2, legend=False, lw=LW, ax=ax2)
style_axis(ax2, stz_cx + stz_dx, stz_ctrl_labels + stz_diab_labels,
           (0.00797, 46.9), (-0.081, 12.68))
ov.text(457, 1140, "STZ Experiment", fontsize=TXT, ha="center", va="baseline")
ov.text(25.5, 1402.5, "Normalized Intensity (log scale)", fontsize=11.5, rotation=90,
        ha="center", va="center")
bracket([(77, 277.5), (298, 498), (537, 682), (694, 838)], 1690)
ov.text(293, 1706.5, "Control", fontsize=11.5, ha="center", va="baseline")
ov.text(680, 1707, "Diabetic", fontsize=11.5, ha="center", va="baseline")

# ---------------- colour bar ----------------
cb_l, cb_r = 317, 666
cax = fig.add_axes(rect(cb_l, 1742, cb_r, 1752))
cax.imshow(np.linspace(0, 1, 256)[None, :], aspect="auto", cmap=expr_cmap,
           extent=(0, 1, 0, 1))
cax.axis("off")
ov.text(523, 1735.5, "Expression", fontsize=11, ha="center", va="baseline")
for v, lab in zip(cbar_values, cbar_labels):
    ov.text(cb_l + expr_frac(v) * (cb_r - cb_l), 1765, lab, fontsize=10.5,
            ha="center", va="baseline")

fig.savefig("out.png", dpi=100, facecolor="white")
